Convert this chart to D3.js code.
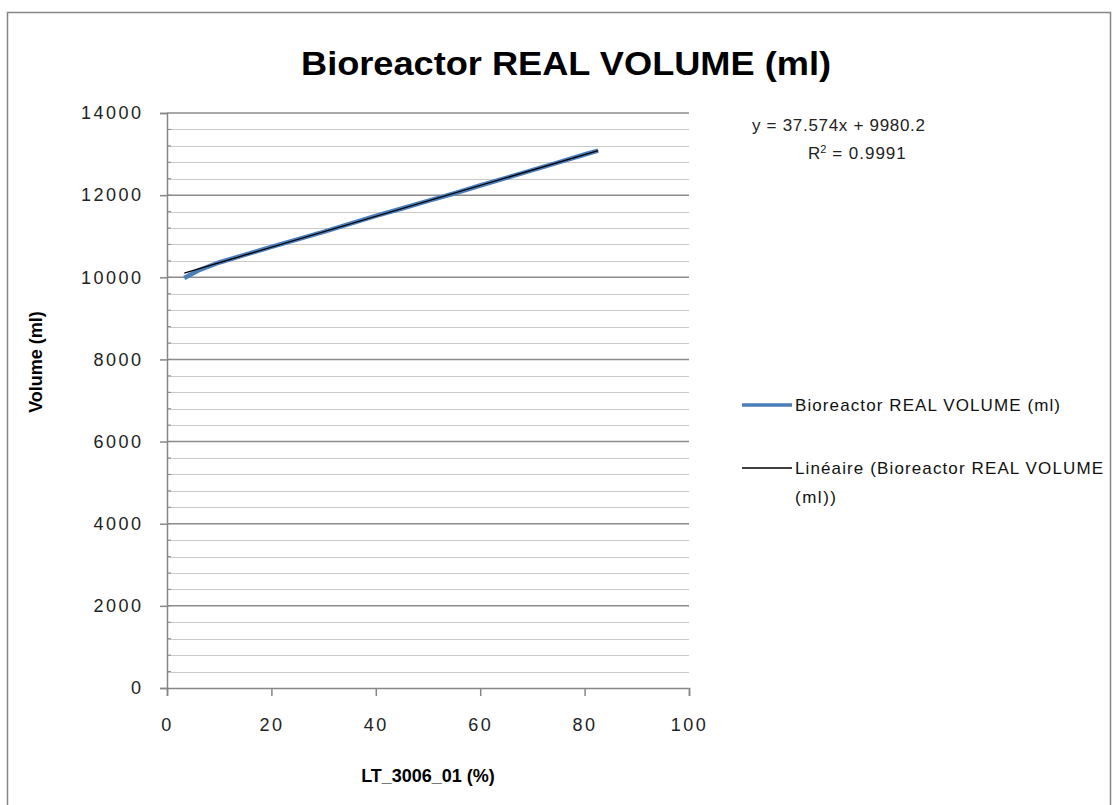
<!DOCTYPE html>
<html>
<head>
<meta charset="utf-8">
<script src="https://cdn.jsdelivr.net/npm/d3@7"></script>
<style>
  body { margin: 0; background: #fff; }
  text { font-family: "Liberation Sans Narrow", "Liberation Sans", Arial, sans-serif; }
</style>
</head>
<body>
<div id="chart"></div>
<script>
// data
var levelPct = [3.3, 6, 10, 15, 20, 25, 30, 35, 40, 45, 50, 55, 60, 65, 70, 75, 80, 82.6];
var volumeMl = [9985, 10165, 10360, 10550, 10740, 10925, 11105, 11300, 11495, 11675, 11860, 12040, 12235, 12420, 12610, 12800, 12990, 13085];
var trendSlope = 37.574, trendIntercept = 9980.2, trendR2 = 0.9991;
var xTicks = [0, 20, 40, 60, 80, 100];
var yTicks = [0, 2000, 4000, 6000, 8000, 10000, 12000, 14000];

var W = 1114, H = 805;
var margin = { top: 113, left: 167 },
  width = 689 - 167,
  height = 688 - 113;

var root = d3.select("#chart").append("svg")
  .attr("width", W).attr("height", H);

// chart border
root.append("rect")
  .attr("x", 7.5).attr("y", 12.5).attr("width", 1103).attr("height", 810)
  .attr("fill", "none").attr("stroke", "#868686").attr("stroke-width", 1.5);

root.append("text")
  .attr("x", 566).attr("y", 75)
  .attr("text-anchor", "middle")
  .attr("font-size", 33).attr("font-weight", "bold")
  .attr("textLength", 530).attr("lengthAdjust", "spacingAndGlyphs")
  .text("Bioreactor REAL VOLUME (ml)");

var svg = root.append("g")
  .attr("transform", "translate(" + margin.left + "," + margin.top + ")");

var x = d3.scaleLinear().domain([0, 100]).range([0, width]);
var y = d3.scaleLinear().domain([0, 14000]).range([height, 0]);

// minor gridlines every 400
svg.append("g")
  .selectAll("line")
  .data(d3.range(400, 14000, 400).filter(function(d) { return d % 2000 != 0 }))
  .enter().append("line")
  .attr("x1", 0).attr("x2", width)
  .attr("y1", function(d) { return Math.round(y(d)) + 0.5 })
  .attr("y2", function(d) { return Math.round(y(d)) + 0.5 })
  .attr("stroke", "#cacaca").attr("stroke-width", 1);

// major gridlines
svg.append("g")
  .selectAll("line")
  .data(yTicks.slice(1))
  .enter().append("line")
  .attr("x1", 0).attr("x2", width)
  .attr("y1", function(d) { return y(d) })
  .attr("y2", function(d) { return y(d) })
  .attr("stroke", "#8c8c8c").attr("stroke-width", 1.5);

// minor ticks inside y axis
svg.append("g")
  .selectAll("line")
  .data(d3.range(400, 14000, 400))
  .enter().append("line")
  .attr("x1", 0).attr("x2", 4)
  .attr("y1", function(d) { return y(d) })
  .attr("y2", function(d) { return y(d) })
  .attr("stroke", "#868686");

var yAxis = svg.append("g")
  .call(d3.axisLeft(y).tickValues(yTicks).tickFormat(d3.format("d")).tickSize(7).tickPadding(19));
var xAxis = svg.append("g")
  .attr("transform", "translate(0," + height + ")")
  .call(d3.axisBottom(x).tickValues(xTicks).tickFormat(d3.format("d")).tickSize(8).tickPadding(22));

[yAxis, xAxis].forEach(function(a) {
  a.select(".domain").attr("stroke", "#868686").attr("stroke-width", 1.5);
  a.selectAll(".tick line").attr("stroke", "#868686").attr("stroke-width", 1.5);
  a.selectAll(".tick text")
    .attr("font-family", "'Liberation Sans Narrow', 'Liberation Sans', sans-serif")
    .attr("font-size", 18).attr("letter-spacing", "2.5px").attr("fill", "#222");
});
yAxis.selectAll(".tick text").attr("dx", "2.5px");

// data line
var line = d3.line()
  .x(function(d, i) { return x(levelPct[i]) })
  .y(function(d) { return y(d) });

svg.append("path")
  .datum(volumeMl)
  .attr("d", line)
  .attr("fill", "none")
  .attr("stroke", "#4a7ebb")
  .attr("stroke-width", 4.5);

// linear trendline over the data range
var xMin = d3.min(levelPct), xMax = d3.max(levelPct);
svg.append("line")
  .attr("x1", x(xMin)).attr("y1", y(trendSlope * xMin + trendIntercept))
  .attr("x2", x(xMax)).attr("y2", y(trendSlope * xMax + trendIntercept))
  .attr("stroke", "#000").attr("stroke-width", 1.3);

// axis titles
root.append("text")
  .attr("x", 428).attr("y", 782)
  .attr("text-anchor", "middle")
  .attr("font-size", 18).attr("font-weight", "bold")
  .text("LT_3006_01 (%)");

root.append("text")
  .attr("transform", "translate(42,362) rotate(-90)")
  .attr("text-anchor", "middle")
  .attr("font-size", 18).attr("font-weight", "bold")
  .text("Volume (ml)");

// trendline equation
root.append("text")
  .attr("x", 752).attr("y", 131)
  .attr("font-size", 17).attr("fill", "#222")
  .attr("textLength", 173)
  .text("y = " + trendSlope + "x + " + trendIntercept);
var r2 = root.append("text")
  .attr("x", 808).attr("y", 159)
  .attr("font-size", 17).attr("fill", "#222");
r2.append("tspan").text("R");
r2.append("tspan").attr("font-size", 11).attr("dy", -6).text("2");
r2.append("tspan").attr("dy", 6).attr("letter-spacing", "1px").text(" = " + trendR2);

// legend
var legend = root.append("g");
legend.append("line")
  .attr("x1", 742).attr("x2", 792).attr("y1", 405).attr("y2", 405)
  .attr("stroke", "#4a7ebb").attr("stroke-width", 3.5);
legend.append("text")
  .attr("x", 795).attr("y", 411)
  .attr("font-size", 17).attr("fill", "#111")
  .attr("textLength", 265)
  .text("Bioreactor REAL VOLUME (ml)");
legend.append("line")
  .attr("x1", 742).attr("x2", 792).attr("y1", 468).attr("y2", 468)
  .attr("stroke", "#000").attr("stroke-width", 1.3);
legend.append("text")
  .attr("x", 795).attr("y", 474)
  .attr("font-size", 17).attr("fill", "#111")
  .attr("textLength", 308)
  .text("Linéaire (Bioreactor REAL VOLUME");
legend.append("text")
  .attr("x", 795).attr("y", 503)
  .attr("font-size", 17).attr("fill", "#111")
  .attr("textLength", 41)
  .text("(ml))");
</script>
</body>
</html>
